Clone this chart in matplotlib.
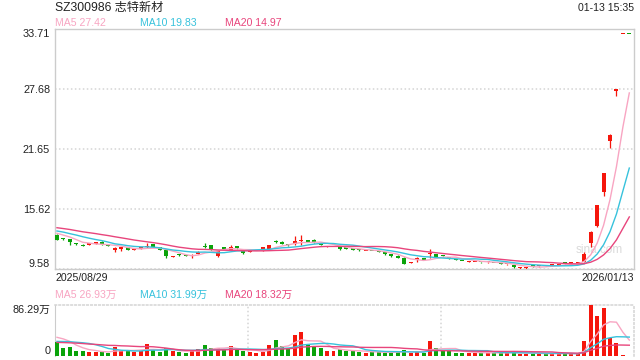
import matplotlib
matplotlib.use('Agg')
import matplotlib.pyplot as plt
import numpy as np
import pandas as pd

plt.rcParams['font.family'] = ['Liberation Sans', 'Noto Sans CJK SC']

title = 'SZ300986 志特新材'
stamp = '01-13 15:35'
first_date = '2025/08/29'
last_date = '2026/01/13'
price_ticks = [9.58, 15.62, 21.65, 27.68, 33.71]
vol_top = 86.29
ma_price_text = ['MA5 27.42', 'MA10 19.83', 'MA20 14.97']
ma_vol_text = ['MA5 26.93万', 'MA10 31.99万', 'MA20 18.32万']

# daily candles, 2025/08/29 .. 2026/01/13
open_ = [13.00, 12.63, 12.60, 12.12, 11.95, 12.04, 12.14, 12.33, 11.92, 11.54,
         11.64, 11.76, 11.50, 11.64, 11.80, 12.06, 11.76, 11.49, 10.80, 11.01,
         10.91, 10.90, 11.06, 11.85, 11.99, 10.92, 11.68, 11.49, 11.89, 11.49,
         11.30, 11.37, 11.64, 11.59, 12.35, 12.33, 12.00, 12.06, 12.37, 12.50,
         12.50, 12.08, 11.77, 11.77, 11.82, 11.68, 11.58, 11.51, 11.37, 11.41,
         11.34, 11.26, 11.06, 10.92, 10.72, 10.17, 10.49, 10.66, 11.04, 11.09,
         10.88, 10.68, 10.54, 10.41, 10.30, 10.27, 10.28, 10.24, 10.21, 10.12,
         10.04, 9.99, 9.68, 9.66, 9.86, 9.84, 9.92, 9.95, 10.00, 10.24,
         10.14, 10.16, 10.32, 12.22, 13.93, 17.35, 22.48, 27.52, 33.22, 33.22]
high = [13.05, 12.70, 12.62, 12.20, 12.05, 12.12, 12.22, 12.36, 11.95, 11.76,
        11.82, 11.79, 11.57, 11.72, 12.16, 12.08, 11.79, 11.51, 10.88, 11.06,
        10.94, 11.06, 11.36, 12.16, 12.02, 11.42, 11.72, 11.99, 11.92, 11.52,
        11.37, 11.44, 11.82, 12.02, 12.45, 12.36, 12.06, 12.93, 13.00, 12.53,
        12.60, 12.16, 11.85, 11.84, 11.85, 11.70, 11.62, 11.55, 11.44, 11.43,
        11.36, 11.29, 11.09, 10.95, 10.74, 10.25, 10.79, 10.69, 11.59, 11.12,
        10.90, 10.70, 10.57, 10.43, 10.36, 10.33, 10.30, 10.30, 10.23, 10.14,
        10.10, 10.01, 9.82, 9.80, 9.88, 9.90, 9.94, 10.02, 10.06, 10.26,
        10.22, 10.24, 11.25, 13.40, 16.02, 19.22, 23.12, 27.68, 33.22, 33.22]
low = [12.45, 12.50, 11.99, 12.00, 11.85, 12.00, 12.12, 12.03, 11.85, 11.26,
       11.42, 11.48, 11.48, 11.62, 11.66, 11.77, 11.49, 10.72, 10.78, 10.93,
       10.85, 10.72, 11.04, 11.66, 11.46, 10.82, 11.60, 11.46, 11.63, 11.13,
       11.28, 11.35, 11.42, 11.56, 12.20, 12.06, 11.90, 12.00, 12.00, 12.30,
       12.23, 11.96, 11.75, 11.75, 11.53, 11.60, 11.50, 11.44, 11.35, 11.35,
       11.27, 11.03, 10.83, 10.69, 10.09, 10.15, 10.32, 10.46, 10.72, 10.76,
       10.80, 10.60, 10.47, 10.35, 10.28, 10.25, 10.22, 10.22, 10.15, 10.06,
       10.02, 9.73, 9.62, 9.62, 9.80, 9.82, 9.86, 9.93, 9.98, 10.12,
       10.12, 10.14, 10.25, 11.76, 13.83, 16.95, 21.77, 26.97, 33.22, 33.22]
close = [12.50, 12.58, 12.26, 12.08, 11.92, 12.08, 12.18, 12.06, 11.89, 11.58,
         11.68, 11.52, 11.54, 11.68, 11.84, 11.79, 11.52, 10.92, 10.84, 10.98,
         10.87, 10.94, 11.32, 11.82, 11.49, 11.39, 11.64, 11.82, 11.66, 11.16,
         11.34, 11.41, 11.68, 11.99, 12.31, 12.09, 11.97, 12.39, 12.41, 12.33,
         12.26, 12.04, 11.81, 11.81, 11.56, 11.64, 11.54, 11.47, 11.41, 11.37,
         11.30, 11.06, 10.86, 10.72, 10.12, 10.21, 10.66, 10.49, 11.08, 10.79,
         10.84, 10.64, 10.50, 10.37, 10.34, 10.31, 10.24, 10.28, 10.17, 10.08,
         10.08, 9.75, 9.72, 9.70, 9.82, 9.88, 9.88, 10.00, 10.03, 10.16,
         10.18, 10.20, 11.13, 13.35, 16.02, 19.22, 23.07, 27.68, 33.22, 33.22]
# volume, 万股
volume = [23.0, 14.3, 15.5, 8.6, 8.6, 6.9, 6.9, 6.9, 5.2, 16.0,
          8.6, 9.8, 7.5, 8.6, 20.1, 9.8, 6.9, 13.2, 8.6, 6.9,
          5.7, 8.6, 11.5, 19.0, 13.2, 13.2, 9.8, 17.3, 9.8, 8.6,
          6.9, 5.7, 7.5, 19.0, 27.6, 17.3, 14.3, 36.2, 41.4, 20.1,
          15.5, 13.2, 8.6, 8.6, 11.5, 8.6, 8.6, 6.9, 5.2, 6.9,
          6.9, 5.2, 6.9, 6.9, 10.4, 5.7, 6.9, 5.7, 24.7, 14.3,
          9.8, 8.6, 5.7, 5.7, 5.7, 5.2, 5.2, 5.2, 5.2, 5.2,
          6.0, 7.0, 4.2, 4.2, 4.0, 3.8, 3.8, 3.8, 3.8, 5.0,
          3.4, 3.6, 24.7, 86.29, 67.3, 80.6, 30.5, 21.3, 1.7, 0.55]
# sessions before the window, only feed the moving averages (estimated from MA start levels)
prior_close = [14.3, 14.1, 14.4, 14.2, 13.9, 14.0, 14.2, 13.8, 13.9, 13.8,
               13.7, 13.8, 13.5, 13.6, 13.55, 13.5, 13.2, 13.4, 13.25]
prior_vol = [20, 24, 19, 22, 25, 18, 23, 21, 20, 21,
             16, 19, 18, 17, 19, 28, 36, 40, 31]

RED = '#f5160c'
GREEN = '#0aa30a'
MA_COLORS = ['#f8a5c2', '#37c2dc', '#e8457c']
GRID = '#d4d4d4'
EDGE = '#cccccc'
TXT = '#222222'

n = len(close)
x = np.arange(n)
o = np.array(open_)
h = np.array(high)
l = np.array(low)
c = np.array(close)
prev = np.concatenate([[prior_close[-1]], c[:-1]])
up = (c > o) | ((c == o) & (c > prev))
colors = np.where(up, RED, GREEN)

cs = pd.Series(prior_close + close)
vs = pd.Series(prior_vol + volume)
ma_p = [cs.rolling(k).mean().values[-n:] for k in (5, 10, 20)]
ma_v = [vs.rolling(k).mean().values[-n:] for k in (5, 10, 20)]

W, H = 640, 360


def box(left, top, right, bottom):
    return [left / W, 1 - bottom / H, (right - left) / W, (bottom - top) / H]


fig = plt.figure(figsize=(6.4, 3.6), dpi=100)
ax = fig.add_axes(box(55, 29, 634, 269))
axv = fig.add_axes(box(55, 305, 634, 356))
xlim = (-0.31, 89.73)

# price panel
ax.vlines(x, l, h, colors=colors, lw=0.9, zorder=3)
body = np.maximum(np.abs(c - o), 0.12)
ax.bar(x, body, bottom=np.minimum(o, c), width=0.62, color=colors, lw=0, zorder=3)
for m, col in zip(ma_p, MA_COLORS):
    ax.plot(x, m, color=col, lw=1.0, zorder=4)
ax.text(0.94, 0.08, 'sina.com', transform=ax.transAxes, ha='center', va='center',
        fontsize=8.5, color='#dadada', zorder=1)

ax.set_xlim(*xlim)
ax.set_ylim(price_ticks[0], price_ticks[-1])
ax.set_yticks(price_ticks)
ax.set_yticklabels(['%.2f' % t for t in price_ticks])
ax.set_xticks([])
ax.tick_params(axis='y', length=0, pad=3.5, labelsize=7.8, labelcolor=TXT)
labs = ax.get_yticklabels()
labs[0].set_va('bottom')
labs[-1].set_va('top')
ax.yaxis.grid(True, color=GRID, lw=1.1, linestyle=(0, (1, 1.6)))
ax.set_axisbelow(True)
for s in ax.spines.values():
    s.set_color(EDGE)
    s.set_linewidth(1)

# volume panel
axv.bar(x, volume, width=0.62, color=colors, lw=0, zorder=3)
for m, col in zip(ma_v, MA_COLORS):
    axv.plot(x, m, color=col, lw=1.0, zorder=4)
axv.set_xlim(*xlim)
axv.set_ylim(0, vol_top)
axv.set_yticks([0, vol_top])
axv.set_yticklabels(['0', '%.2f万' % vol_top])
axv.set_xticks([])
axv.tick_params(axis='y', length=0, pad=3.5, labelsize=7.8, labelcolor=TXT)
vl = axv.get_yticklabels()
vl[0].set_va('bottom')
vl[1].set_va('top')
span = xlim[1] - xlim[0]
for frac in (1 / 3, 2 / 3):
    axv.axvline(xlim[0] + frac * span, color=GRID, lw=1.1, linestyle=(0, (1, 1.6)), zorder=1)
axv.spines['left'].set_color(EDGE)
axv.spines['bottom'].set_visible(False)
for side in ('top', 'right'):
    axv.spines[side].set_color(GRID)
    axv.spines[side].set_linewidth(1.1)
    axv.spines[side].set_linestyle((0, (1, 1.6)))

# header texts
fig.text(55 / W, 1 - 8 / H, title, ha='left', va='center', fontsize=8.7, color=TXT)
fig.text(634 / W, 1 - 8 / H, stamp, ha='right', va='center', fontsize=7.6, color=TXT)
for xp, t, col in zip((55, 140, 225), ma_price_text, MA_COLORS):
    fig.text(xp / W, 1 - 23.5 / H, t, ha='left', va='center', fontsize=7.6, color=col)
fig.text(55 / W, 1 - 278 / H, first_date, ha='left', va='center', fontsize=7.6, color=TXT)
fig.text(634 / W, 1 - 278 / H, last_date, ha='right', va='center', fontsize=7.6, color=TXT)
for xp, t, col in zip((55, 140, 225), ma_vol_text, MA_COLORS):
    fig.text(xp / W, 1 - 294.5 / H, t, ha='left', va='center', fontsize=7.6, color=col)

fig.savefig('out.png', dpi=100)
